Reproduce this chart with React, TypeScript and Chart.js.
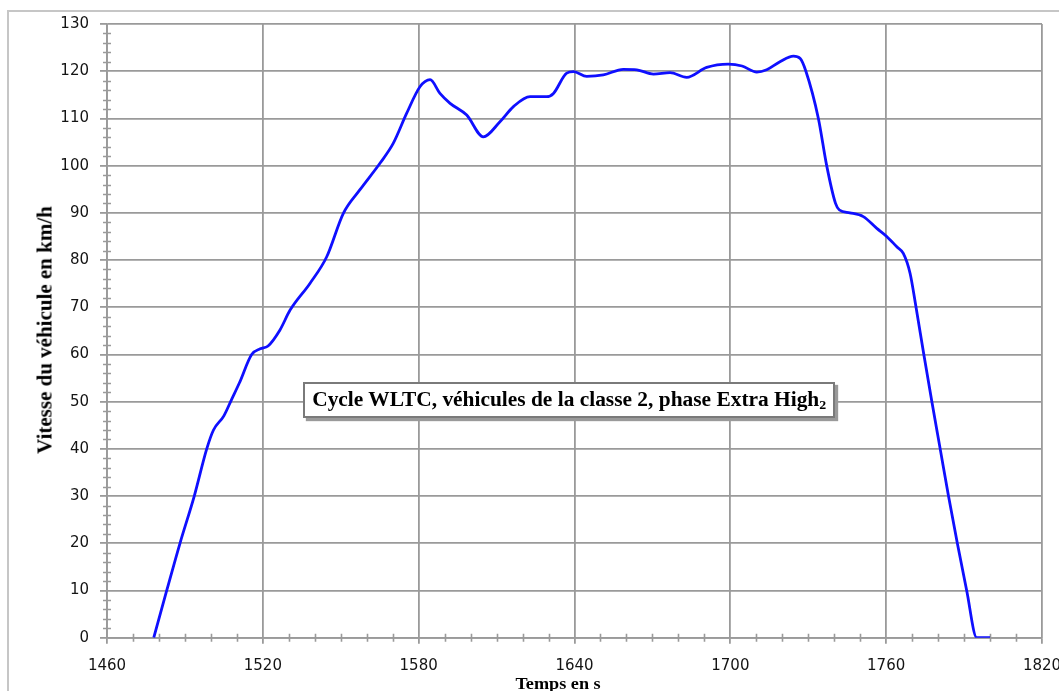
import React, { useEffect, useRef } from "react";
import { Chart, registerables } from "chart.js";

Chart.register(...registerables);

// Time in seconds
const times: number[] = [
  1478, 1483, 1488.1, 1493.6, 1498.4, 1501, 1505, 1508, 1511, 1515.7, 1519, 1522,
  1526.6, 1530.5, 1538.2, 1544.6, 1551, 1557.4, 1565.1, 1570.2, 1575.4, 1580.5,
  1584.4, 1588.2, 1592.1, 1598.5, 1604.9, 1611.3, 1616.5, 1622.9, 1629.3, 1631.9,
  1637, 1639.6, 1644.7, 1651.1, 1658.8, 1664, 1670.4, 1676.8, 1683.2, 1690.9,
  1699.2, 1704.5, 1710.2, 1714, 1719.1, 1724.3, 1726.9, 1729.1, 1733.9, 1737.1,
  1740.5, 1742, 1746, 1751.2, 1756.4, 1760.2, 1764.1, 1766.6, 1769.2, 1771.5,
  1774.5, 1777.6, 1780.8, 1784, 1787.4, 1791, 1794.9, 1800,
];

// Vehicle speed in km/h
const speeds: number[] = [
  0, 10, 20, 30, 40, 44, 47, 50.5, 54, 60, 61.2, 61.8,
  65.2, 69.4, 75.1, 80.7, 89.9, 94.9, 100.5, 104.7, 111.1, 116.7,
  118.2, 115.3, 113.2, 110.7, 106.1, 109.3, 112.5, 114.6, 114.6, 115.3,
  119.6, 119.9, 118.9, 119.2, 120.4, 120.3, 119.4, 119.7, 118.7, 120.8,
  121.5, 121.1, 119.8, 120.3, 122, 123.2, 122.7, 120, 110, 100,
  92, 90.6, 90, 89.2, 86.7, 85, 82.8, 81.4, 77.2, 70,
  60, 50, 40, 30, 20, 10, 0, 0,
];

const xMin = 1460;
const xMax = 1820;
const xMajorStep = 60;
const xMinorStep = 10;
const yMin = 0;
const yMax = 130;
const yMajorStep = 10;
const yMinorStep = 2;

const yTitle = "Vitesse du véhicule en km/h";
const xTitle = "Temps en s";
const boxText = "Cycle WLTC, véhicules de la classe 2, phase Extra High";
const boxSub = "2";

const GRID = "#9a9a9a";
const TICKFONT = { family: "'DejaVu Sans', Verdana, sans-serif", size: 15 };

const minorTicks = {
  id: "minorTicks",
  beforeDatasetsDraw(chart: any) {
    const { ctx, chartArea, scales } = chart;
    const xs = scales.x;
    const ys = scales.y;
    ctx.save();
    ctx.strokeStyle = GRID;
    ctx.lineWidth = 1.6;
    ctx.beginPath();
    for (let v = xMin + xMinorStep; v < xMax; v += xMinorStep) {
      if ((v - xMin) % xMajorStep === 0) continue;
      const px = Math.round(xs.getPixelForValue(v)) + 0.5;
      ctx.moveTo(px, chartArea.bottom - 4);
      ctx.lineTo(px, chartArea.bottom + 4);
    }
    for (let v = yMin + yMinorStep; v < yMax; v += yMinorStep) {
      if (v % yMajorStep === 0) continue;
      const py = Math.round(ys.getPixelForValue(v)) + 0.5;
      ctx.moveTo(chartArea.left - 4, py);
      ctx.lineTo(chartArea.left + 4, py);
    }
    ctx.stroke();
    ctx.restore();
  },
};

export default function App() {
  const ref = useRef<HTMLCanvasElement | null>(null);

  useEffect(() => {
    if (!ref.current) return;
    const chart = new Chart(ref.current, {
      type: "line",
      data: {
        datasets: [
          {
            data: times.map((t, i) => ({ x: t, y: speeds[i] })),
            borderColor: "#0f0fff",
            borderWidth: 2.8,
            pointRadius: 0,
            fill: false,
            cubicInterpolationMode: "monotone",
          },
        ],
      },
      options: {
        animation: false,
        responsive: false,
        events: [],
        layout: { padding: { left: 0, top: 24, right: 17, bottom: 0 } },
        plugins: { legend: { display: false }, tooltip: { enabled: false } },
        scales: {
          x: {
            type: "linear",
            min: xMin,
            max: xMax,
            ticks: {
              stepSize: xMajorStep,
              font: TICKFONT,
              color: "#141414",
              padding: 13,
              maxRotation: 0,
              callback: (v: any) => String(v),
            },
            grid: { color: GRID, lineWidth: 1.8, tickLength: 6 },
            border: { color: GRID, width: 1.8 },
            afterFit: (s: any) => {
              s.height = 700 - 637.7;
              s.paddingLeft = 0;
              s.paddingRight = 0;
            },
          },
          y: {
            min: yMin,
            max: yMax,
            ticks: {
              stepSize: yMajorStep,
              font: TICKFONT,
              color: "#141414",
              padding: 11,
              callback: (v: any) => String(v),
            },
            grid: { color: GRID, lineWidth: 1.8, tickLength: 7 },
            border: { color: GRID, width: 1.8 },
            afterFit: (s: any) => {
              s.width = 107;
              s.paddingTop = 0;
              s.paddingBottom = 0;
            },
          },
        },
      },
      plugins: [minorTicks],
    } as any);
    return () => chart.destroy();
  }, []);

  return (
    <div
      style={{
        position: "fixed",
        left: 0,
        top: 0,
        width: 1059,
        height: 691,
        overflow: "hidden",
        background: "#fff",
      }}
    >
      <div
        style={{
          position: "absolute",
          left: 7,
          top: 10,
          width: 1200,
          height: 900,
          border: "2px solid #c6c6c6",
        }}
      />
      <canvas
        ref={ref}
        width={1059}
        height={700}
        style={{ position: "absolute", left: 0, top: 0, width: 1059, height: 700 }}
      />
      <div
        style={{
          position: "absolute",
          left: 45,
          top: 330,
          transform: "translate(-50%, -50%) rotate(-90deg) scaleX(1.05)",
          whiteSpace: "nowrap",
          font: "bold 20px 'Liberation Serif', 'Times New Roman', serif",
          color: "#000",
        }}
      >
        {yTitle}
      </div>
      <div
        style={{
          position: "absolute",
          left: 558,
          top: 684,
          transform: "translate(-50%, -50%) scaleX(1.07)",
          whiteSpace: "nowrap",
          font: "bold 17px 'Liberation Serif', 'Times New Roman', serif",
          color: "#000",
        }}
      >
        {xTitle}
      </div>
      <div
        style={{
          position: "absolute",
          left: 303,
          top: 382,
          width: 532,
          height: 36,
          boxSizing: "border-box",
          border: "2px solid #7a7a7a",
          boxShadow: "3px 3px 1px #9a9a9a",
          background: "#fff",
          display: "flex",
          alignItems: "center",
          justifyContent: "center",
        }}
      >
        <span
          style={{
            display: "inline-block",
            transform: "scaleX(1.07)",
            whiteSpace: "nowrap",
            font: "bold 20px 'Liberation Serif', 'Times New Roman', serif",
            color: "#000",
          }}
        >
          {boxText}
          <span style={{ fontSize: 13, verticalAlign: "-3px" }}>{boxSub}</span>
        </span>
      </div>
    </div>
  );
}
